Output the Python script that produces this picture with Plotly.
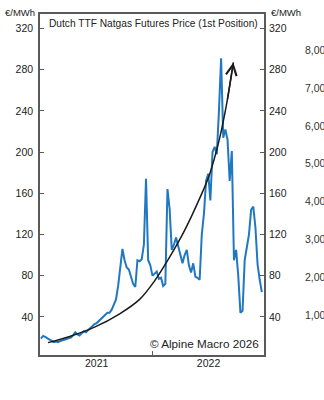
import pandas as pd
import plotly.graph_objects as go

# Weekly Dutch TTF front-month price, EUR/MWh (Fridays from 2021-01-01)
week_start = "2021-01-01"
ttf_price = [
    19, 21.5, 20.5, 19, 18, 17, 15.5, 16, 15.5, 16.5,
    17, 18, 18.5, 19.5, 20, 22, 25, 23, 22, 24,
    26, 25, 27, 28, 31, 33, 34, 36, 39, 41,
    42, 44, 44, 47, 52, 57, 70, 88, 106, 95,
    88, 86, 80, 72, 69, 95, 94, 96, 110, 174,
    95, 90, 80, 82, 84, 77, 78, 70, 72, 164,
    145, 105, 110, 117, 108, 100, 92, 100, 105, 90,
    83, 92, 79, 78, 76, 120, 140, 172, 179, 153,
    200, 205, 198, 240, 291, 214, 222, 212, 172, 201,
    95, 105, 80, 44, 46, 95, 110, 120, 144, 147,
    127, 91, 76, 64,
]
dates = pd.date_range(week_start, periods=len(ttf_price), freq="7D")

# Trend arrow drawn over the price line
trend_dates = ["2021-01-24", "2021-04-05", "2021-06-25", "2021-09-15", "2021-11-19",
               "2022-01-07", "2022-02-25", "2022-04-15", "2022-06-03", "2022-07-05",
               "2022-08-06", "2022-09-01", "2022-09-21"]
trend_vals = [15, 21, 30, 43, 57, 75, 98, 124, 155, 178, 212, 250, 287]

y_ticks = [40, 80, 120, 160, 200, 240, 280, 320]
year_tick_dates = ["2021-01-01", "2022-01-01"]
year_label_dates = ["2021-07-02", "2022-07-02"]
year_labels = ["2021", "2022"]
side_labels = ["8,000", "7,000", "6,000", "5,000", "4,000", "3,000", "2,000", "1,000"]

FONT = "Liberation Sans, Arial, sans-serif"
AX = "#5a5a5a"
x_range = ["2020-12-29", "2022-12-30"]
y_range = [3, 334]

fig = go.Figure()
fig.add_trace(go.Scatter(x=dates, y=ttf_price, mode="lines",
                         line=dict(color="#1f78c1", width=2), showlegend=False))
fig.add_trace(go.Scatter(x=trend_dates, y=trend_vals, mode="lines",
                         line=dict(color="#1a1a1a", width=1.5, shape="spline"),
                         showlegend=False))
fig.add_trace(go.Scatter(x=[dates[0]], y=[None], xaxis="x2", yaxis="y2",
                         showlegend=False))

fig.add_annotation(x=trend_dates[-1], y=trend_vals[-1], ax=trend_dates[-2], ay=trend_vals[-2],
                   axref="x", ayref="y", xref="x", yref="y", text="", showarrow=True,
                   arrowhead=5, arrowsize=1.4, arrowwidth=1.5, arrowcolor="#1a1a1a", standoff=0)

tick_font = dict(family=FONT, size=10.5, color="#222222")
fig.update_layout(
    width=324, height=400,
    margin=dict(l=40, r=60, t=12, b=45),
    paper_bgcolor="white", plot_bgcolor="white",
    font=dict(family=FONT, size=11, color="#222222"),
    xaxis=dict(type="date", range=x_range, tickmode="array", tickvals=year_tick_dates,
               ticktext=["", ""], ticks="inside", ticklen=4, tickcolor=AX,
               showline=True, linecolor=AX, linewidth=1.5, mirror=True,
               showgrid=False, zeroline=False),
    xaxis2=dict(type="date", range=x_range, overlaying="x", anchor="y", side="bottom",
                tickmode="array", tickvals=year_label_dates, ticktext=year_labels,
                ticks="", showline=False, showgrid=False, zeroline=False,
                tickfont=tick_font),
    yaxis=dict(range=y_range, tickmode="array", tickvals=y_ticks, ticks="inside",
               ticklen=4, tickcolor=AX, showline=True, linecolor=AX, linewidth=1.5,
               mirror=True, showgrid=False, zeroline=False, tickfont=tick_font,
               ticklabelstandoff=3),
    yaxis2=dict(range=y_range, overlaying="y", side="right", anchor="x",
                tickmode="array", tickvals=y_ticks, ticks="inside", ticklen=4,
                tickcolor=AX, showline=False, showgrid=False, zeroline=False,
                tickfont=tick_font, ticklabelstandoff=4),
)

# Unit labels above both axes
fig.add_annotation(text="€/MWh", xref="paper", yref="paper", x=-0.012, y=1.004,
                   xanchor="right", yanchor="middle", showarrow=False,
                   font=dict(family=FONT, size=9.5, color="#222222"))
fig.add_annotation(text="€/MWh", xref="paper", yref="paper", x=1.022, y=1.004,
                   xanchor="left", yanchor="middle", showarrow=False,
                   font=dict(family=FONT, size=9.5, color="#222222"))

# Chart title inside the frame
fig.add_annotation(text="Dutch TTF Natgas Futures Price (1st Position)", xref="paper",
                   yref="paper", x=0.03, y=0.973, xanchor="left", yanchor="middle",
                   showarrow=False, font=dict(family=FONT, size=10.2, color="#222222"))

# Copyright note
fig.add_annotation(text="© Alpine Macro 2026", xref="paper", yref="paper", x=0.985, y=0.035,
                   xanchor="right", yanchor="middle", showarrow=False,
                   font=dict(family=FONT, size=11.7, color="#222222"))

# Neighbouring axis labels at the right edge
for i, lab in enumerate(side_labels):
    py = 48 + 38.1 * i
    fig.add_annotation(text=lab, xref="paper", yref="paper", x=(303 - 40) / 224,
                       y=(355 - py) / 343, xanchor="left", yanchor="middle",
                       showarrow=False, font=dict(family=FONT, size=10.5, color="#333333"))

fig.write_html("out.html")
